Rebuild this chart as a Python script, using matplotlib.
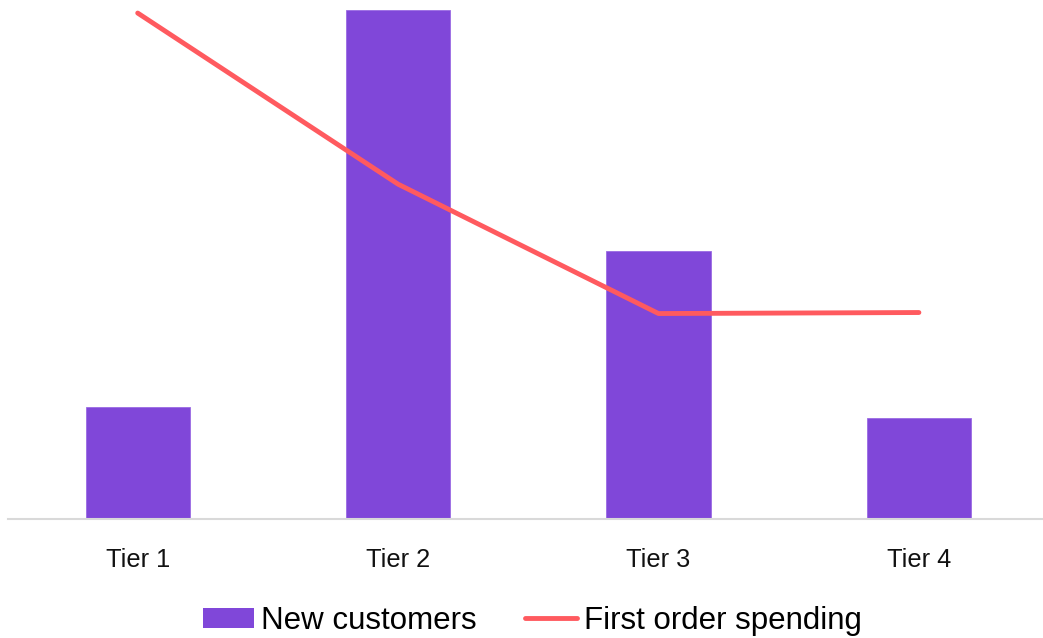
import matplotlib
matplotlib.use("Agg")
import matplotlib.pyplot as plt
from matplotlib.patches import Patch
from matplotlib.lines import Line2D

categories = ["Tier 1", "Tier 2", "Tier 3", "Tier 4"]
new_customers = [2200, 10000, 5275, 1985]
first_order_spending = [49.7, 32.9, 20.2, 20.3]

bar_color = "#8047D9"
line_color = "#FF5A5F"

plt.rcParams['font.family'] = ['Liberation Sans', 'DejaVu Sans']

W, H = 1043, 638
fig = plt.figure(figsize=(W / 100, H / 100), dpi=100)
left = 7.5 / W
right = 1043 / W
bottom = (H - 519.3) / H
top = (H - 10) / H
ax = fig.add_axes([left, bottom, right - left, top - bottom])

x = list(range(len(categories)))
ax.bar(x, new_customers, width=0.4, color=bar_color, edgecolor="#9A6BE3", linewidth=0.6, zorder=2)
ax.set_ylim(0, 10000)
ax.set_xlim(-0.5, -0.5 + (1043 - 7.5) / 260.4)

for s in ["top", "right", "left"]:
    ax.spines[s].set_visible(False)
ax.spines["bottom"].set_color("#D9D9D9")
ax.spines["bottom"].set_linewidth(1.5)
ax.set_yticks([])
ax.set_xticks(x)
ax.set_xticklabels(categories, fontsize=18.3, color="#111111")
ax.tick_params(axis="x", length=0, pad=20.5)

ax2 = ax.twinx()
ax2.set_ylim(0, 50)
ax2.plot(x, first_order_spending, color=line_color, lw=3.5, solid_capstyle="round",
         solid_joinstyle="round", clip_on=False, zorder=3)
ax2.axis("off")

handles = [Patch(facecolor=bar_color, edgecolor="none"),
           Line2D([0], [0], color=line_color, lw=3.5, solid_capstyle="round")]
fig.legend(handles, ["New customers", "First order spending"], loc="center",
           bbox_to_anchor=(532 / W, 1 - 621 / H), ncol=2, frameon=False,
           fontsize=22.5, handlelength=1.66, handleheight=0.65, handletextpad=0.2,
           columnspacing=1.57, borderpad=0)

fig.savefig("out.png", dpi=100)
